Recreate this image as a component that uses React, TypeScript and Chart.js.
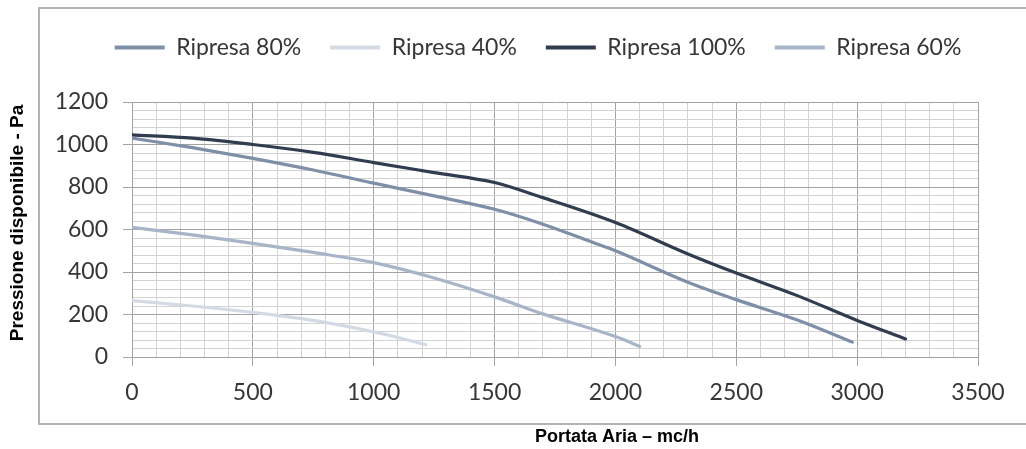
import React, { useEffect, useRef } from 'react';
import { Chart, registerables } from 'chart.js';

Chart.register(...registerables);

// ---- data ----
const seriesLabels = ['Ripresa 80%', 'Ripresa 40%', 'Ripresa 100%', 'Ripresa 60%'];
const seriesColors = ['#7f8fa7', '#d3dae4', '#313c4f', '#a8b4c7'];

const flow80 = [0, 250, 500, 750, 1000, 1250, 1500, 1700, 1900, 2000, 2300, 2500, 2750, 2980];
const pressure80 = [1030, 985, 935, 880, 818, 758, 695, 625, 542, 500, 352, 270, 175, 70];

const flow40 = [0, 250, 500, 750, 1000, 1100, 1215];
const pressure40 = [265, 240, 210, 172, 118, 92, 58];

const flow100 = [0, 250, 500, 750, 1000, 1250, 1500, 1700, 2000, 2300, 2500, 2750, 3000, 3200];
const pressure100 = [1045, 1030, 1000, 963, 915, 868, 821, 750, 633, 485, 395, 290, 172, 85];

const flow60 = [0, 250, 500, 750, 1000, 1250, 1500, 1700, 2000, 2100];
const pressure60 = [610, 575, 535, 492, 444, 372, 283, 203, 96, 50];

const xMin = 0;
const xMax = 3500;
const xStep = 100;
const xMajor = 500;
const yMin = 0;
const yMax = 1200;
const yStep = 40;
const yMajor = 200;

const xTitle = 'Portata Aria – mc/h';
const yTitle = 'Pressione disponibile - Pa';

// ---- styles ----
const MAJOR_GRID = '#a3a3a3';
const MINOR_GRID = '#d2d2d2';
const TEXT_COLOR = '#363636';
const LABEL_FONT = 'Lato';
const TITLE_FONT = '"Liberation Sans", Arial, sans-serif';
const LEGEND_SHIFT = 49;

const isMult = (v: number, m: number) => Math.abs(v / m - Math.round(v / m)) < 1e-6;

const toPoints = (xs: number[], ys: number[]) => xs.map((x, i) => ({ x, y: ys[i] }));

const decorPlugin = {
  id: 'decor',
  afterLayout(chart: any) {
    if (chart.legend) {
      chart.legend.left += LEGEND_SHIFT;
      chart.legend.right += LEGEND_SHIFT;
    }
  },
  beforeDraw(chart: any) {
    const ctx = chart.ctx;
    ctx.save();
    ctx.strokeStyle = '#b3b3b3';
    ctx.lineWidth = 2;
    ctx.beginPath();
    ctx.moveTo(39, 7);
    ctx.lineTo(39, 425);
    ctx.moveTo(38, 8);
    ctx.lineTo(1026, 8);
    ctx.moveTo(38, 424);
    ctx.lineTo(1026, 424);
    ctx.stroke();
    ctx.restore();
  },
  afterDraw(chart: any) {
    const ctx = chart.ctx;
    ctx.save();
    ctx.fillStyle = '#000';
    ctx.textAlign = 'center';
    ctx.textBaseline = 'middle';
    ctx.font = `bold 18px ${TITLE_FONT}`;
    ctx.fillText(xTitle, 617, 437);
    ctx.font = `bold 19px ${TITLE_FONT}`;
    ctx.translate(18, 223);
    ctx.rotate(-Math.PI / 2);
    ctx.fillText(yTitle, 0, 0);
    ctx.restore();
  },
};

export default function App() {
  const canvasRef = useRef<HTMLCanvasElement | null>(null);

  useEffect(() => {
    const canvas = canvasRef.current;
    if (!canvas) return;
    const dataSets = [
      toPoints(flow80, pressure80),
      toPoints(flow40, pressure40),
      toPoints(flow100, pressure100),
      toPoints(flow60, pressure60),
    ];
    const chart = new Chart(canvas, {
      type: 'line',
      data: {
        datasets: dataSets.map((d, i) => ({
          label: seriesLabels[i],
          data: d,
          borderColor: seriesColors[i],
          backgroundColor: seriesColors[i],
          borderWidth: 3.2,
          pointRadius: 0,
          pointHoverRadius: 0,
          cubicInterpolationMode: 'monotone' as const,
          borderCapStyle: 'round' as const,
          fill: false,
        })),
      },
      options: {
        animation: false,
        responsive: false,
        devicePixelRatio: 1,
        layout: { padding: { top: 7, left: 0, right: 48, bottom: 0 } },
        plugins: {
          tooltip: { enabled: false },
          // empty spacer between the legend and the plot area
          title: {
            display: true,
            text: '',
            position: 'top',
            weight: 0,
            font: { size: 10, lineHeight: 1 },
            padding: { top: 0, bottom: 23 },
          },
          legend: {
            position: 'top',
            labels: {
              boxWidth: 50,
              boxHeight: 4,
              padding: 29,
              color: TEXT_COLOR,
              font: { family: LABEL_FONT, size: 23 },
              generateLabels: (c: any) =>
                Chart.defaults.plugins.legend.labels
                  .generateLabels(c)
                  .map((l: any) => ({ ...l, lineWidth: 0 })),
            },
          },
        },
        scales: {
          x: {
            type: 'linear',
            min: xMin,
            max: xMax,
            afterFit: (s: any) => {
              s.height = 92;
            },
            ticks: {
              stepSize: xStep,
              maxTicksLimit: 1000,
              autoSkip: false,
              maxRotation: 0,
              minRotation: 0,
              padding: 13,
              color: TEXT_COLOR,
              font: { family: LABEL_FONT, size: 23 },
              callback: (v: any) => (isMult(Number(v), xMajor) ? String(v) : ''),
            },
            grid: {
              color: (c: any) => (c.tick && isMult(c.tick.value, xMajor) ? MAJOR_GRID : MINOR_GRID),
              tickColor: (c: any) => (c.tick && isMult(c.tick.value, xMajor) ? MAJOR_GRID : 'rgba(0,0,0,0)'),
              tickLength: 9,
              lineWidth: 1,
            },
            border: { color: MAJOR_GRID, width: 1 },
          },
          y: {
            type: 'linear',
            min: yMin,
            max: yMax,
            afterFit: (s: any) => {
              s.width = 132;
            },
            ticks: {
              stepSize: yStep,
              maxTicksLimit: 1000,
              autoSkip: false,
              padding: 15,
              color: TEXT_COLOR,
              font: { family: LABEL_FONT, size: 23 },
              callback: (v: any) => (isMult(Number(v), yMajor) ? String(v) : ''),
            },
            grid: {
              color: (c: any) => (c.tick && isMult(c.tick.value, yMajor) ? MAJOR_GRID : MINOR_GRID),
              tickColor: (c: any) => (c.tick && isMult(c.tick.value, yMajor) ? MAJOR_GRID : 'rgba(0,0,0,0)'),
              tickLength: 9,
              lineWidth: 1,
            },
            border: { color: MAJOR_GRID, width: 1 },
          },
        },
      },
      plugins: [decorPlugin],
    } as any);
    return () => chart.destroy();
  }, []);

  return (
    <div style={{ position: 'fixed', left: 0, top: 0, width: 1026, height: 449, background: '#fff' }}>
      <canvas ref={canvasRef} width={1026} height={449} style={{ display: 'block', width: 1026, height: 449 }} />
    </div>
  );
}
